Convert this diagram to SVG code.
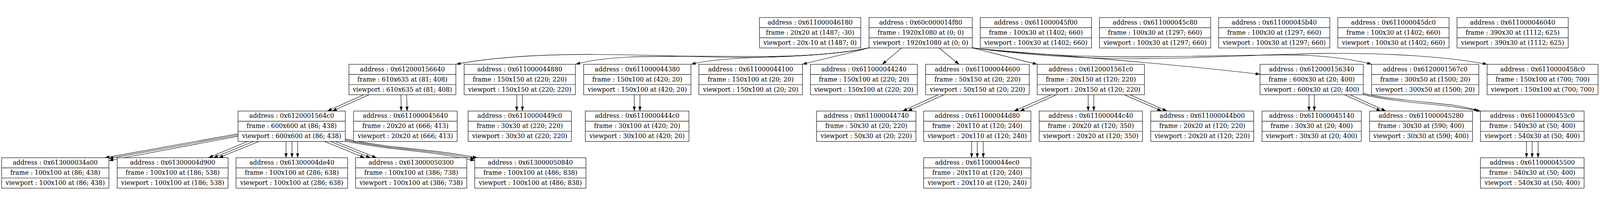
<svg xmlns="http://www.w3.org/2000/svg" width="4833" height="528" viewBox="0 0 4833 528">
<style>
svg{width:100vw;height:100vh}
.node rect{fill:#fff;stroke:#000;stroke-width:1.33}
.node path{fill:none;stroke:#000;stroke-width:1.33}
.node text{font-family:"DejaVu Serif","Liberation Serif",serif;font-size:18.67px;text-anchor:middle;fill:#000}
.e{fill:none;stroke:#000;stroke-width:1.33;marker-end:url(#ah)}
</style>
<defs>
<marker id="ah" markerUnits="userSpaceOnUse" markerWidth="14" markerHeight="10" refX="13.3" refY="4.67" orient="auto"><path d="M0,0L13.3,4.67L0,9.33z" fill="#000"/></marker>
</defs>
<rect width="4833" height="528" fill="#fff"/>
<g id="edges">
<path class="e" d="M2625,97C2560,113 2400,126 2250,126C2100,126 1950,117 1780,117C1620,117 1470,128 1378,147"/>
<path class="e" d="M2625,97C2540,115 2420,123 2300,123C2150,123 2000,121 1900,125C1820,129 1770,138 1739,147"/>
<path class="e" d="M2625,97C2550,115 2420,122 2300,126C2200,129 2130,136 2088,147"/>
<path class="e" d="M2625,97C2560,115 2480,132 2424,147"/>
<path class="e" d="M2724,97L2665,147"/>
<path class="e" d="M2836,97L2897,147"/>
<path class="e" d="M2936,97L3133,147"/>
<path class="e" d="M2936,97C3050,112 3400,130 3806,177"/>
<path class="e" d="M2936,97C3100,118 3300,126 3500,124C3700,122 3850,116 3950,120C4040,125 4100,135 4143,147"/>
<path class="e" d="M2936,97C3100,120 3300,131 3450,130C3650,129 3800,117 4000,114C4200,112 4380,125 4492,147"/>
<path class="e" d="M1098.5,239L989,288.3"/>
<path class="e" d="M1115,239L1004,288.3"/>
<path class="e" d="M1211,239L1212,288.3"/>
<path class="e" d="M1228,239L1230,288.3"/>
<path class="e" d="M1561,239L1561,288.3"/>
<path class="e" d="M1578,239L1578,288.3"/>
<path class="e" d="M1916,239L1916,288.3"/>
<path class="e" d="M1933,239L1933,288.3"/>
<path class="e" d="M2834,239L2726.5,288.3"/>
<path class="e" d="M2851.5,239L2742,288.3"/>
<path class="e" d="M3175.5,239L3063,288.3"/>
<path class="e" d="M3191,239L3081,288.3"/>
<path class="e" d="M3287,239L3287,288.3"/>
<path class="e" d="M3304,239L3304,288.3"/>
<path class="e" d="M3396,239L3509,288.3"/>
<path class="e" d="M3413,239L3525,288.3"/>
<path class="e" d="M3954,239L3954,288.3"/>
<path class="e" d="M3970,239L3970,288.3"/>
<path class="e" d="M4061,239L4171,288.3"/>
<path class="e" d="M4078,239L4186,288.3"/>
<path class="e" d="M4118,235C4200,255 4330,262 4400,272C4430,277 4450,282 4465,289"/>
<path class="e" d="M4118,238.5C4200,259 4320,266 4395,276C4430,281 4455,285 4473,289"/>
<path class="e" d="M719,357L317,429.6"/>
<path class="e" d="M719,360.5L329,432"/>
<path class="e" d="M719,364.5L329,438"/>
<path class="e" d="M747,380.6L630,429.6"/>
<path class="e" d="M765,380.6L645,429.6"/>
<path class="e" d="M782,380.6L661,429.6"/>
<path class="e" d="M864,380.6L864,429.6"/>
<path class="e" d="M882,380.6L882,429.6"/>
<path class="e" d="M899,380.6L899,429.6"/>
<path class="e" d="M981,380.6L1101,429.6"/>
<path class="e" d="M999,380.6L1119,429.6"/>
<path class="e" d="M1014,380.6L1137,429.6"/>
<path class="e" d="M1043,373C1150,395 1250,402 1330,412C1380,418 1410,424 1442,429.6"/>
<path class="e" d="M1043,376.5C1150,398 1250,405 1325,415C1370,421 1405,427 1434,433"/>
<path class="e" d="M1043,380C1150,401 1250,408 1320,418C1365,424 1400,432 1434,438"/>
<path class="e" d="M2935,380.6L2935,429.6"/>
<path class="e" d="M2952,380.6L2952,429.6"/>
<path class="e" d="M2970,380.6L2970,429.6"/>
<path class="e" d="M4611,380.6L4611,429.6"/>
<path class="e" d="M4628,380.6L4628,429.6"/>
<path class="e" d="M4646,380.6L4646,429.6"/>
</g>
<g id="n46180" class="node" transform="translate(2294,5.5)"><rect width="306" height="92"/><path d="M0,30.7H306M0,61.3H306"/><text x="153" y="21">address : 0x611000046180</text><text x="153" y="51.7">frame : 20x20 at (1487; -30)</text><text x="153" y="82.4">viewport : 20x-10 at (1487; 0)</text></g>
<g id="n14f80" class="node" transform="translate(2625,5.5)"><rect width="312" height="92"/><path d="M0,30.7H312M0,61.3H312"/><text x="156" y="21">address : 0x60c000014f80</text><text x="156" y="51.7">frame : 1920x1080 at (0; 0)</text><text x="156" y="82.4">viewport : 1920x1080 at (0; 0)</text></g>
<g id="n45f00" class="node" transform="translate(2961,5.5)"><rect width="336" height="92"/><path d="M0,30.7H336M0,61.3H336"/><text x="168" y="21">address : 0x611000045f00</text><text x="168" y="51.7">frame : 100x30 at (1402; 660)</text><text x="168" y="82.4">viewport : 100x30 at (1402; 660)</text></g>
<g id="n45c80" class="node" transform="translate(3321,5.5)"><rect width="336" height="92"/><path d="M0,30.7H336M0,61.3H336"/><text x="168" y="21">address : 0x611000045c80</text><text x="168" y="51.7">frame : 100x30 at (1297; 660)</text><text x="168" y="82.4">viewport : 100x30 at (1297; 660)</text></g>
<g id="n45b40" class="node" transform="translate(3681,5.5)"><rect width="336" height="92"/><path d="M0,30.7H336M0,61.3H336"/><text x="168" y="21">address : 0x611000045b40</text><text x="168" y="51.7">frame : 100x30 at (1297; 660)</text><text x="168" y="82.4">viewport : 100x30 at (1297; 660)</text></g>
<g id="n45dc0" class="node" transform="translate(4041,5.5)"><rect width="336" height="92"/><path d="M0,30.7H336M0,61.3H336"/><text x="168" y="21">address : 0x611000045dc0</text><text x="168" y="51.7">frame : 100x30 at (1402; 660)</text><text x="168" y="82.4">viewport : 100x30 at (1402; 660)</text></g>
<g id="n46040" class="node" transform="translate(4401,5.5)"><rect width="336" height="92"/><path d="M0,30.7H336M0,61.3H336"/><text x="168" y="21">address : 0x611000046040</text><text x="168" y="51.7">frame : 390x30 at (1112; 625)</text><text x="168" y="82.4">viewport : 390x30 at (1112; 625)</text></g>
<g id="n156640" class="node" transform="translate(1054,147)"><rect width="323" height="92"/><path d="M0,30.7H323M0,61.3H323"/><text x="161.5" y="21">address : 0x612000156640</text><text x="161.5" y="51.7">frame : 610x635 at (81; 408)</text><text x="161.5" y="82.4">viewport : 610x635 at (81; 408)</text></g>
<g id="n44880" class="node" transform="translate(1402,147)"><rect width="336" height="92"/><path d="M0,30.7H336M0,61.3H336"/><text x="168" y="21">address : 0x611000044880</text><text x="168" y="51.7">frame : 150x150 at (220; 220)</text><text x="168" y="82.4">viewport : 150x150 at (220; 220)</text></g>
<g id="n44380" class="node" transform="translate(1763,147)"><rect width="324" height="92"/><path d="M0,30.7H324M0,61.3H324"/><text x="162" y="21">address : 0x611000044380</text><text x="162" y="51.7">frame : 150x100 at (420; 20)</text><text x="162" y="82.4">viewport : 150x100 at (420; 20)</text></g>
<g id="n44100" class="node" transform="translate(2111,147)"><rect width="313" height="92"/><path d="M0,30.7H313M0,61.3H313"/><text x="156.5" y="21">address : 0x611000044100</text><text x="156.5" y="51.7">frame : 150x100 at (20; 20)</text><text x="156.5" y="82.4">viewport : 150x100 at (20; 20)</text></g>
<g id="n44240" class="node" transform="translate(2448,147)"><rect width="323" height="92"/><path d="M0,30.7H323M0,61.3H323"/><text x="161.5" y="21">address : 0x611000044240</text><text x="161.5" y="51.7">frame : 150x100 at (220; 20)</text><text x="161.5" y="82.4">viewport : 150x100 at (220; 20)</text></g>
<g id="n44600" class="node" transform="translate(2796,147)"><rect width="313" height="92"/><path d="M0,30.7H313M0,61.3H313"/><text x="156.5" y="21">address : 0x611000044600</text><text x="156.5" y="51.7">frame : 50x150 at (20; 220)</text><text x="156.5" y="82.4">viewport : 50x150 at (20; 220)</text></g>
<g id="n1561c0" class="node" transform="translate(3133,147)"><rect width="324" height="92"/><path d="M0,30.7H324M0,61.3H324"/><text x="162" y="21">address : 0x6120001561c0</text><text x="162" y="51.7">frame : 20x150 at (120; 220)</text><text x="162" y="82.4">viewport : 20x150 at (120; 220)</text></g>
<g id="n156340" class="node" transform="translate(3806,147)"><rect width="312" height="92"/><path d="M0,30.7H312M0,61.3H312"/><text x="156" y="21">address : 0x612000156340</text><text x="156" y="51.7">frame : 600x30 at (20; 400)</text><text x="156" y="82.4">viewport : 600x30 at (20; 400)</text></g>
<g id="n1567c0" class="node" transform="translate(4143,147)"><rect width="324" height="92"/><path d="M0,30.7H324M0,61.3H324"/><text x="162" y="21">address : 0x6120001567c0</text><text x="162" y="51.7">frame : 300x50 at (1500; 20)</text><text x="162" y="82.4">viewport : 300x50 at (1500; 20)</text></g>
<g id="n458c0" class="node" transform="translate(4492,147)"><rect width="335" height="92"/><path d="M0,30.7H335M0,61.3H335"/><text x="167.5" y="21">address : 0x6110000458c0</text><text x="167.5" y="51.7">frame : 150x100 at (700; 700)</text><text x="167.5" y="82.4">viewport : 150x100 at (700; 700)</text></g>
<g id="n1564c0" class="node" transform="translate(719,288.3)"><rect width="324" height="92"/><path d="M0,30.7H324M0,61.3H324"/><text x="162" y="21">address : 0x6120001564c0</text><text x="162" y="51.7">frame : 600x600 at (86; 438)</text><text x="162" y="82.4">viewport : 600x600 at (86; 438)</text></g>
<g id="n45640" class="node" transform="translate(1068,288.3)"><rect width="313" height="92"/><path d="M0,30.7H313M0,61.3H313"/><text x="156.5" y="21">address : 0x611000045640</text><text x="156.5" y="51.7">frame : 20x20 at (666; 413)</text><text x="156.5" y="82.4">viewport : 20x20 at (666; 413)</text></g>
<g id="n449c0" class="node" transform="translate(1414,288.3)"><rect width="312" height="92"/><path d="M0,30.7H312M0,61.3H312"/><text x="156" y="21">address : 0x6110000449c0</text><text x="156" y="51.7">frame : 30x30 at (220; 220)</text><text x="156" y="82.4">viewport : 30x30 at (220; 220)</text></g>
<g id="n444c0" class="node" transform="translate(1768,288.3)"><rect width="313" height="92"/><path d="M0,30.7H313M0,61.3H313"/><text x="156.5" y="21">address : 0x6110000444c0</text><text x="156.5" y="51.7">frame : 30x100 at (420; 20)</text><text x="156.5" y="82.4">viewport : 30x100 at (420; 20)</text></g>
<g id="n44740" class="node" transform="translate(2466.7,288.3)"><rect width="300" height="92"/><path d="M0,30.7H300M0,61.3H300"/><text x="150" y="21">address : 0x611000044740</text><text x="150" y="51.7">frame : 50x30 at (20; 220)</text><text x="150" y="82.4">viewport : 50x30 at (20; 220)</text></g>
<g id="n44d80" class="node" transform="translate(2790,288.3)"><rect width="324" height="92"/><path d="M0,30.7H324M0,61.3H324"/><text x="162" y="21">address : 0x611000044d80</text><text x="162" y="51.7">frame : 20x110 at (120; 240)</text><text x="162" y="82.4">viewport : 20x110 at (120; 240)</text></g>
<g id="n44c40" class="node" transform="translate(3139,288.3)"><rect width="312" height="92"/><path d="M0,30.7H312M0,61.3H312"/><text x="156" y="21">address : 0x611000044c40</text><text x="156" y="51.7">frame : 20x20 at (120; 350)</text><text x="156" y="82.4">viewport : 20x20 at (120; 350)</text></g>
<g id="n44b00" class="node" transform="translate(3476,288.3)"><rect width="311" height="92"/><path d="M0,30.7H311M0,61.3H311"/><text x="155.5" y="21">address : 0x611000044b00</text><text x="155.5" y="51.7">frame : 20x20 at (120; 220)</text><text x="155.5" y="82.4">viewport : 20x20 at (120; 220)</text></g>
<g id="n45140" class="node" transform="translate(3812,288.3)"><rect width="300" height="92"/><path d="M0,30.7H300M0,61.3H300"/><text x="150" y="21">address : 0x611000045140</text><text x="150" y="51.7">frame : 30x30 at (20; 400)</text><text x="150" y="82.4">viewport : 30x30 at (20; 400)</text></g>
<g id="n45280" class="node" transform="translate(4137,288.3)"><rect width="311" height="92"/><path d="M0,30.7H311M0,61.3H311"/><text x="155.5" y="21">address : 0x611000045280</text><text x="155.5" y="51.7">frame : 30x30 at (590; 400)</text><text x="155.5" y="82.4">viewport : 30x30 at (590; 400)</text></g>
<g id="n453c0" class="node" transform="translate(4472,288.3)"><rect width="313" height="92"/><path d="M0,30.7H313M0,61.3H313"/><text x="156.5" y="21">address : 0x6110000453c0</text><text x="156.5" y="51.7">frame : 540x30 at (50; 400)</text><text x="156.5" y="82.4">viewport : 540x30 at (50; 400)</text></g>
<g id="n34a00" class="node" transform="translate(5,429.6)"><rect width="324" height="92"/><path d="M0,30.7H324M0,61.3H324"/><text x="162" y="21">address : 0x613000034a00</text><text x="162" y="51.7">frame : 100x100 at (86; 438)</text><text x="162" y="82.4">viewport : 100x100 at (86; 438)</text></g>
<g id="n4d900" class="node" transform="translate(354,429.6)"><rect width="335" height="92"/><path d="M0,30.7H335M0,61.3H335"/><text x="167.5" y="21">address : 0x61300004d900</text><text x="167.5" y="51.7">frame : 100x100 at (186; 538)</text><text x="167.5" y="82.4">viewport : 100x100 at (186; 538)</text></g>
<g id="n4de40" class="node" transform="translate(713,429.6)"><rect width="337" height="92"/><path d="M0,30.7H337M0,61.3H337"/><text x="168.5" y="21">address : 0x61300004de40</text><text x="168.5" y="51.7">frame : 100x100 at (286; 638)</text><text x="168.5" y="82.4">viewport : 100x100 at (286; 638)</text></g>
<g id="n50300" class="node" transform="translate(1074,429.6)"><rect width="336" height="92"/><path d="M0,30.7H336M0,61.3H336"/><text x="168" y="21">address : 0x613000050300</text><text x="168" y="51.7">frame : 100x100 at (386; 738)</text><text x="168" y="82.4">viewport : 100x100 at (386; 738)</text></g>
<g id="n50840" class="node" transform="translate(1434,429.6)"><rect width="336" height="92"/><path d="M0,30.7H336M0,61.3H336"/><text x="168" y="21">address : 0x613000050840</text><text x="168" y="51.7">frame : 100x100 at (486; 838)</text><text x="168" y="82.4">viewport : 100x100 at (486; 838)</text></g>
<g id="n44ec0" class="node" transform="translate(2790,429.6)"><rect width="324" height="92"/><path d="M0,30.7H324M0,61.3H324"/><text x="162" y="21">address : 0x611000044ec0</text><text x="162" y="51.7">frame : 20x110 at (120; 240)</text><text x="162" y="82.4">viewport : 20x110 at (120; 240)</text></g>
<g id="n45500" class="node" transform="translate(4472,429.6)"><rect width="313" height="92"/><path d="M0,30.7H313M0,61.3H313"/><text x="156.5" y="21">address : 0x611000045500</text><text x="156.5" y="51.7">frame : 540x30 at (50; 400)</text><text x="156.5" y="82.4">viewport : 540x30 at (50; 400)</text></g>
</svg>
